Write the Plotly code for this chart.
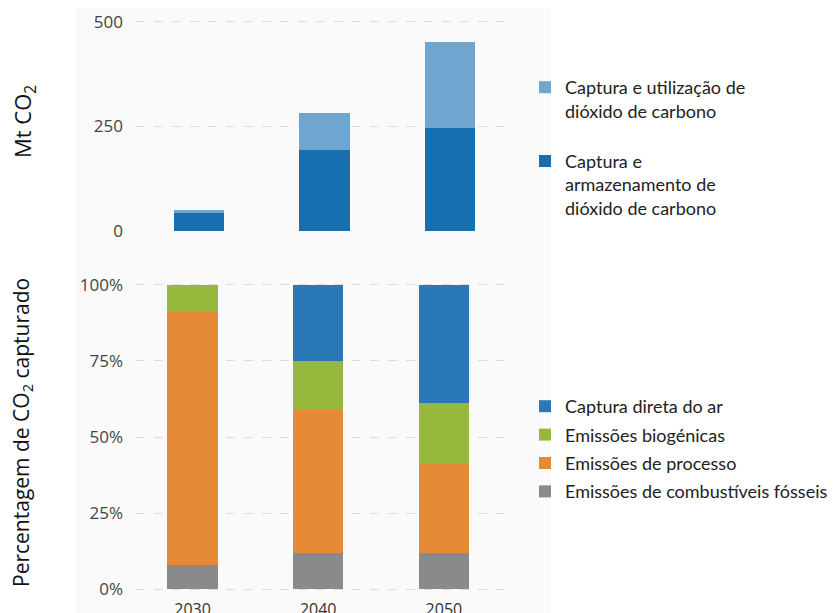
import plotly.graph_objects as go

years = ["2030", "2040", "2050"]

# Top panel (Mt CO2)
ccs = [42, 193, 246]
ccu = [8, 89, 205]
top_ticks = [0, 250, 500]
top_ticktext = ["0", "250", "500"]

# Bottom panel (share of captured CO2, %)
fossil = [8, 12, 12]
process = [83, 47, 29]
biogenic = [9, 16, 20]
dac = [0, 25, 39]
bottom_ticks = [0, 25, 50, 75, 100]
bottom_ticktext = ["0%", "25%", "50%", "75%", "100%"]

W, H = 837, 613
OFF = 8  # vertical page offset
ML, MR, MT, MB = 0, 0, 10, 10
PH = H - MT - MB


def yf(p):
    return (H - MB - (p - OFF)) / PH


def xf(p):
    return p / W


FONT_TICK = "Open Sans"
FONT_LEG = "Lato"

fig = go.Figure()

c_ccs = "#176fb0"
c_ccu = "#6ea6d0"
c_dac = "#2a78b8"
c_bio = "#95b83d"
c_pro = "#e78a38"
c_fos = "#8a8a8a"

fig.add_trace(go.Bar(x=years, y=ccs, name="Captura e<br>armazenamento de<br>dióxido de carbono",
                     marker=dict(color=c_ccs, line=dict(width=0)), width=0.4,
                     xaxis="x", yaxis="y", legend="legend", legendgroup="a", legendrank=2))
fig.add_trace(go.Bar(x=years, y=ccu, name="Captura e utilização de<br>dióxido de carbono",
                     marker=dict(color=c_ccu, line=dict(width=0)), width=0.4,
                     xaxis="x", yaxis="y", legend="legend", legendgroup="b", legendrank=1))

for vals, nm, col, g, rk in [(fossil, "Emissões de combustíveis fósseis", c_fos, "c", 4),
                             (process, "Emissões de processo", c_pro, "d", 3),
                             (biogenic, "Emissões biogénicas", c_bio, "e", 2),
                             (dac, "Captura direta do ar", c_dac, "f", 1)]:
    fig.add_trace(go.Bar(x=years, y=vals, name=nm,
                         marker=dict(color=col, line=dict(width=0)), width=0.4,
                         xaxis="x2", yaxis="y2", legend="legend2", legendgroup=g,
                         legendrank=rk))

# value -> pixel mapping, with slightly extended ranges so edge gridlines show
s1 = (231 - 22) / 500
r1 = [-2, 503]
s2 = (589.3 - 284.7) / 100
r2 = [-0.6, 100.6]

xdom = [xf(128), xf(505)]
grid = dict(showgrid=True, gridcolor="#dcdcdc", griddash="dash", gridwidth=1,
            zeroline=False, showline=False, ticks="", tickmode="array",
            tickfont=dict(family=FONT_TICK, size=17, color="#444444"))

fig.update_layout(
    width=W, height=H,
    margin=dict(l=ML, r=MR, t=MT, b=MB),
    paper_bgcolor="white",
    plot_bgcolor="rgba(0,0,0,0)",
    barmode="stack",
    bargap=0.6,
    xaxis=dict(domain=xdom, anchor="y", showticklabels=False, showgrid=False,
               zeroline=False, showline=False, ticks="", range=[-0.5, 2.5]),
    yaxis=dict(domain=[yf(231 - r1[0] * s1), yf(22 - (r1[1] - 500) * s1)], range=r1,
               tickvals=top_ticks, ticktext=top_ticktext, ticklabelstandoff=12, **grid),
    xaxis2=dict(domain=xdom, anchor="y2", showgrid=False, zeroline=False,
                showline=False, ticks="", range=[-0.45, 2.55], ticklabelstandoff=7,
                tickfont=dict(family=FONT_TICK, size=16, color="#333333")),
    yaxis2=dict(domain=[yf(589.3 - r2[0] * s2), yf(284.7 - (r2[1] - 100) * s2)], range=r2,
                tickvals=bottom_ticks, ticktext=bottom_ticktext, ticklabelstandoff=12, **grid),
    legend=dict(x=xf(517), xanchor="left", y=yf(69), yanchor="top",
                traceorder="grouped", valign="top", tracegroupgap=24,
                font=dict(family=FONT_LEG, size=18, color="#222222"),
                bgcolor="rgba(0,0,0,0)"),
    legend2=dict(x=xf(517), xanchor="left", y=yf(388), yanchor="top",
                 traceorder="grouped", valign="middle", tracegroupgap=2,
                 font=dict(family=FONT_LEG, size=18, color="#222222"),
                 bgcolor="rgba(0,0,0,0)"),
    shapes=[dict(type="rect", xref="paper", yref="paper", layer="below",
                 x0=xf(68), x1=xf(543), y0=-0.1, y1=1.1,
                 fillcolor="#fafafa", line=dict(width=0))],
    annotations=[
        dict(text="Mt CO<sub>2</sub>", xref="paper", yref="paper",
             x=xf(16), y=yf(122), textangle=-90, showarrow=False,
             xanchor="center", yanchor="middle",
             font=dict(family=FONT_TICK, size=22, color="#111111")),
        dict(text="Percentagem de CO<sub>2</sub> capturado", xref="paper", yref="paper",
             x=xf(14), y=yf(433), textangle=-90, showarrow=False,
             xanchor="center", yanchor="middle",
             font=dict(family=FONT_TICK, size=21, color="#111111")),
    ],
)

fig.write_html("out.html")
